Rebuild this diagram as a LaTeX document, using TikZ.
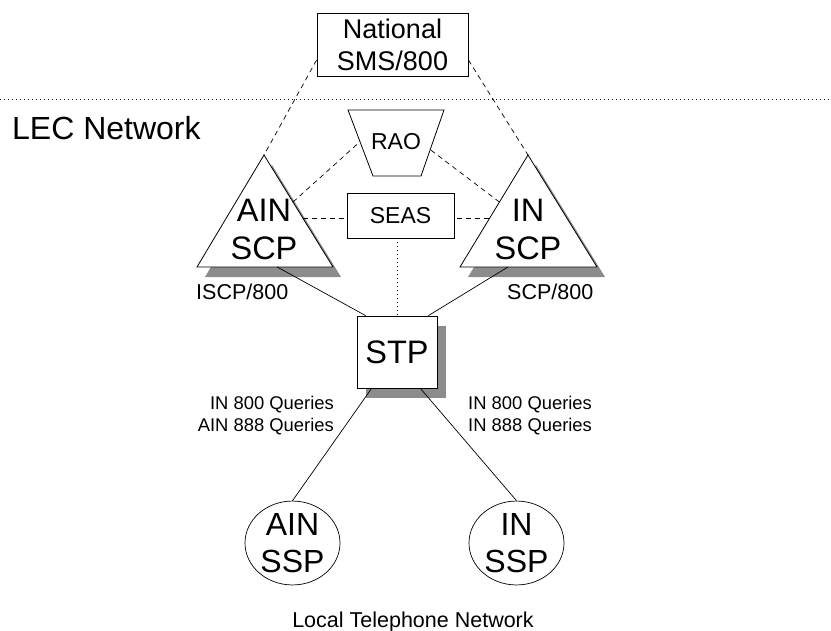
\documentclass[tikz,border=0pt]{standalone}
\usepackage{fontspec}
\setmainfont{Liberation Sans}
\usetikzlibrary{calc,shapes.geometric,shadows}

\tikzset{
  box/.style={draw,fill=white,line width=0.8pt,inner sep=0pt,align=center},
  shade/.style={drop shadow={shadow xshift=#1,shadow yshift=-10pt,fill=black!45,opacity=1}},
  scp/.style={draw,fill=white,line width=0.8pt,shade=8pt},
  ssp/.style={draw,ellipse,line width=0.7pt,inner sep=0pt,minimum width=95,minimum height=80,align=center,font=\fontsize{32}{37}\selectfont},
  big/.style={align=center,inner sep=0pt,font=\fontsize{32.5}{38}\selectfont},
  lbl/.style={inner sep=0pt,font=\fontsize{21.5}{25}\selectfont},
  qry/.style={inner sep=0pt,font=\fontsize{18.4}{22}\selectfont},
  link/.style={line width=0.7pt},
  dlink/.style={line width=0.7pt,dash pattern=on 5pt off 4pt},
  sig/.style={line width=0.8pt,dash pattern=on 1pt off 3pt},
}

\begin{document}
\begin{tikzpicture}[x=1pt,y=-1pt]
\useasboundingbox (0,0) rectangle (831,630);

% LEC boundary
\draw[sig] (0,99) -- (831,99);
\node[anchor=base west,inner sep=0pt,font=\fontsize{32}{36}\selectfont] (lec) at (12,139) {LEC Network};

% national SMS
\node[box,minimum width=151,minimum height=63,font=\fontsize{27}{32}\selectfont] (sms) at (392.5,44.5) {National\\SMS/800};

% SCP triangles
\coordinate (ainT) at (264,155);
\coordinate (ainL) at (197,267);
\coordinate (ainR) at (333,267);
\coordinate (inT) at (528,155);
\coordinate (inL) at (460,267);
\coordinate (inR) at (597,267);
\filldraw[scp] (ainT) -- (ainL) -- (ainR) -- cycle;
\filldraw[scp] (inT) -- (inL) -- (inR) -- cycle;
\node[big] (ainscp) at (264,229) {AIN\\SCP};
\node[big] (inscp) at (528,229) {IN\\SCP};

% RAO
\coordinate (raoTL) at (348,110);
\coordinate (raoTR) at (444,110);
\coordinate (raoBR) at (421,176);
\coordinate (raoBL) at (373,176);
\draw[line width=0.8pt] (raoTL) -- (raoTR) -- (raoBR) -- (raoBL) -- cycle;
\node[inner sep=0pt,font=\fontsize{23}{26}\selectfont] (rao) at (396,142) {RAO};

% SEAS and STP
\node[box,minimum width=107,minimum height=45,font=\fontsize{23}{26}\selectfont] (seas) at (400.5,215.5) {SEAS};
\node[box,shade=9pt,minimum width=80,minimum height=72,font=\fontsize{32.5}{37}\selectfont] (stp) at (397,352) {STP};

% SSPs
\node[ssp] (ainssp) at (292.5,543) {AIN\\SSP};
\node[ssp] (inssp) at (516.5,543) {IN\\SSP};

% management links
\coordinate (ainrao) at ($(ainT)!0.42!(ainR)$);
\coordinate (inrao) at ($(inT)!0.42!(inL)$);
\coordinate (ainseas) at ($(ainT)!0.57!(ainR)$);
\coordinate (inseas) at ($(inT)!0.57!(inL)$);
\draw[dlink] ([yshift=-15.5pt]sms.west) -- (ainT);
\draw[dlink] ([yshift=-15.5pt]sms.east) -- (inT);
\draw[dlink] (ainrao) -- ($(raoTL)!0.48!(raoBL)$);
\draw[dlink] (inrao) -- ($(raoTR)!0.6!(raoBR)$);
\draw[dlink] (ainseas) -- (ainseas -| seas.west);
\draw[dlink] (inseas) -- (inseas -| seas.east);
\draw[sig] (stp.north |- seas.south) -- (stp.north);

% signalling links
\draw[link] ($(ainL)!0.59!(ainR)$) -- ([xshift=9pt]stp.north west);
\draw[link] ($(inL)!0.35!(inR)$) -- ([xshift=-9pt]stp.north east);
\draw[link] ([xshift=15pt]stp.south west) -- (ainssp.north);
\draw[link] ([xshift=-17pt]stp.south east) -- (inssp.north);

% labels
\node[lbl,anchor=west] (iscp) at (196,292) {ISCP/800};
\node[lbl,anchor=west] (scpl) at (507,292) {SCP/800};
\node[qry,align=right,anchor=east] (ainq) at (334,416) {IN 800 Queries\\AIN 888 Queries};
\node[qry,align=left,anchor=west] (inq) at (468,416) {IN 800 Queries\\IN 888 Queries};
\node[lbl,anchor=base] (ltn) at (413,627) {Local Telephone Network};
\end{tikzpicture}
\end{document}
